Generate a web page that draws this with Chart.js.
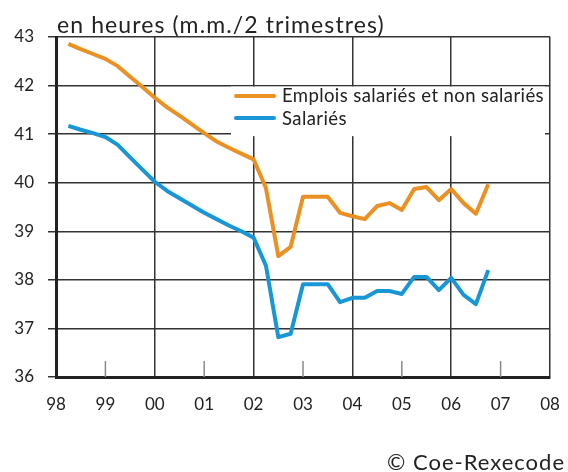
<!DOCTYPE html>
<html>
<head>
<meta charset="utf-8">
<script src="https://cdn.jsdelivr.net/npm/chart.js"></script>
<style>
  html, body { margin: 0; padding: 0; background: #fff; }
  #wrap { position: relative; width: 568px; height: 472px; }
</style>
</head>
<body>
<div id="wrap"><canvas id="hoursChart" width="568" height="472"></canvas></div>
<script>
// Durée hebdomadaire du travail, en heures (moyenne mobile sur 2 trimestres)

const quarters = [
    1998.25, 1998.5, 1998.75, 1999.0, 1999.25, 1999.5, 1999.75,
    2000.0, 2000.25, 2000.5, 2000.75, 2001.0, 2001.25, 2001.5, 2001.75,
    2002.0, 2002.25, 2002.5, 2002.75, 2003.0, 2003.25, 2003.5, 2003.75,
    2004.0, 2004.25, 2004.5, 2004.75, 2005.0, 2005.25, 2005.5, 2005.75,
    2006.0, 2006.25, 2006.5, 2006.75
];

const emploisTotal = [
    42.86, 42.75, 42.65, 42.55, 42.40, 42.18, 41.97,
    41.75, 41.55, 41.38, 41.20, 41.02, 40.85, 40.72, 40.60,
    40.48, 39.89, 38.49, 38.68, 39.71, 39.71, 39.71, 39.38,
    39.31, 39.25, 39.52, 39.58, 39.44, 39.87, 39.91, 39.64,
    39.87, 39.58, 39.36, 39.97
];

const salaries = [
    41.17, 41.09, 41.02, 40.94, 40.78, 40.52, 40.27,
    40.02, 39.83, 39.68, 39.53, 39.38, 39.25, 39.12, 39.00,
    38.87, 38.29, 36.82, 36.89, 37.91, 37.91, 37.91, 37.54,
    37.63, 37.63, 37.77, 37.77, 37.71, 38.06, 38.06, 37.79,
    38.04, 37.69, 37.50, 38.20
];

const yearTicks = [1998, 1999, 2000, 2001, 2002, 2003, 2004, 2005, 2006, 2007, 2008];
const tickLabels = ['98', '99', '00', '01', '02', '03', '04', '05', '06', '07', '08'];

const seriesNames = ['Emplois salariés et non salariés', 'Salariés'];
const titleText = 'en heures (m.m./2 trimestres)';
const sourceText = '© Coe-Rexecode';

const ORANGE = '#EB9123';
const BLUE = '#1896D6';
const INK = '#222222';
const FONT = 'Lato, "Noto Sans", sans-serif';

// Title, source, minor ticks and the boxed legend
const decorPlugin = {
    id: 'decor',
    beforeDatasetsDraw(chart) {
        const { ctx, chartArea, scales } = chart;
        ctx.save();

        // short ticks for odd years, rising from the bottom axis
        ctx.strokeStyle = '#8a8a8a';
        ctx.lineWidth = 1.5;
        yearTicks.forEach((yr, i) => {
            if (i % 2 === 0) return;
            const x = scales.x.getPixelForValue(yr);
            ctx.beginPath();
            ctx.moveTo(x, chartArea.bottom);
            ctx.lineTo(x, chartArea.bottom - 16);
            ctx.stroke();
        });

        // white legend box over the grid
        const top = scales.y.getPixelForValue(42) + 1;
        const bottom = scales.y.getPixelForValue(41) + 2;
        ctx.fillStyle = '#ffffff';
        ctx.fillRect(231, top, chartArea.right - 236, bottom - top);

        const rows = [
            { label: seriesNames[0], color: ORANGE, y: 96, base: 102 },
            { label: seriesNames[1], color: BLUE, y: 118, base: 125 }
        ];
        ctx.lineWidth = 4;
        ctx.lineCap = 'round';
        ctx.font = '18.5px ' + FONT;
        ctx.letterSpacing = '0.4px';
        ctx.textBaseline = 'alphabetic';
        rows.forEach(r => {
            ctx.strokeStyle = r.color;
            ctx.beginPath();
            ctx.moveTo(236, r.y);
            ctx.lineTo(274, r.y);
            ctx.stroke();
            ctx.fillStyle = INK;
            ctx.fillText(r.label, 282, r.base);
        });
        ctx.restore();
    },
    afterDraw(chart) {
        const { ctx, chartArea } = chart;
        ctx.save();
        ctx.fillStyle = INK;
        ctx.textBaseline = 'alphabetic';
        ctx.textAlign = 'left';
        ctx.font = '23px ' + FONT;
        ctx.letterSpacing = '1.1px';
        ctx.fillText(titleText, chartArea.left + 1, 33);

        ctx.font = '22px ' + FONT;
        ctx.letterSpacing = '1px';
        ctx.textAlign = 'right';
        ctx.fillText(sourceText, 565, 470);
        ctx.restore();
    }
};

const chart = new Chart(document.getElementById('hoursChart'), {
    type: 'line',
    data: {
        datasets: [
            {
                label: seriesNames[0],
                data: quarters.map((q, i) => ({ x: q, y: emploisTotal[i] })),
                borderColor: ORANGE,
                borderWidth: 4,
                pointRadius: 0,
                tension: 0,
                borderJoinStyle: 'round'
            },
            {
                label: seriesNames[1],
                data: quarters.map((q, i) => ({ x: q, y: salaries[i] })),
                borderColor: BLUE,
                borderWidth: 4,
                pointRadius: 0,
                tension: 0,
                borderJoinStyle: 'round'
            }
        ]
    },
    options: {
        responsive: false,
        animation: false,
        layout: { padding: { top: 37, right: 18, left: 0, bottom: 0 } },
        plugins: {
            legend: { display: false },
            tooltip: { enabled: false },
            title: { display: false }
        },
        scales: {
            x: {
                type: 'linear',
                min: 1998,
                max: 2008,
                afterBuildTicks(scale) {
                    scale.ticks = yearTicks.map(v => ({ value: v }));
                },
                afterFit(scale) {
                    scale.height = 95;
                    scale.paddingLeft = 0;
                    scale.paddingRight = 0;
                },
                grid: {
                    drawTicks: false,
                    color: ctx => (ctx.index % 2 === 0 ? '#333333' : 'rgba(0,0,0,0)'),
                    lineWidth: 1.5
                },
                border: { display: true, color: INK, width: 3 },
                ticks: {
                    padding: 17,
                    color: INK,
                    font: { family: FONT, size: 17 },
                    callback: (value, index) => tickLabels[index]
                }
            },
            y: {
                min: 36,
                max: 43,
                afterFit(scale) { scale.width = 56; },
                grid: {
                    color: '#333333',
                    lineWidth: 1.5,
                    drawTicks: true,
                    tickLength: 8,
                    tickColor: '#333333'
                },
                border: { display: true, color: INK, width: 3 },
                ticks: {
                    stepSize: 1,
                    padding: 14,
                    color: INK,
                    font: { family: FONT, size: 17 }
                }
            }
        }
    },
    plugins: [decorPlugin]
});
</script>
</body>
</html>
